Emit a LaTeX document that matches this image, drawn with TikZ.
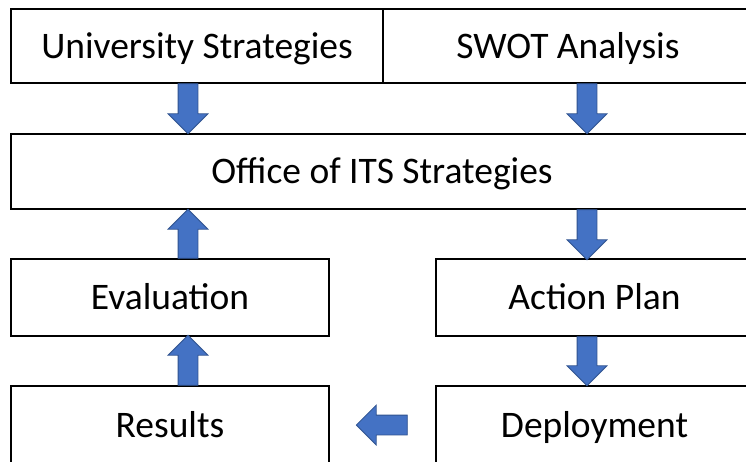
\documentclass[tikz,border=0pt]{standalone}
\usepackage{fontspec}
\setmainfont{Carlito}
\usetikzlibrary{shapes.arrows,calc}
\definecolor{arrowfill}{HTML}{4472C4}
\definecolor{arrowline}{HTML}{2F528F}
\tikzset{
  box/.style={draw=black, line width=1.4pt, fill=white, rectangle, inner sep=0pt,
    font=\fontsize{37.5}{42}\selectfont, text height=24pt, text depth=0pt},
  blockarrow/.style={single arrow, draw=arrowline, fill=arrowfill, line width=0.8pt,
    inner xsep=0pt, inner ysep=9.5pt, single arrow head extend=10pt,
    single arrow tip angle=90, single arrow head indent=0pt,
    outer sep=0pt, anchor=tail},
}
\begin{document}
\begin{tikzpicture}[x=1pt, y=-1pt]
  \useasboundingbox (0,0) rectangle (746,461);
  \clip (0,0) rectangle (746,461);
  \fill[white] (0,0) rectangle (746,461);

  % boxes (y runs downwards)
  \node[box, minimum width=372pt, minimum height=74pt] (us)     at (197,46)    {University Strategies};
  \node[box, minimum width=370pt, minimum height=74pt] (swot)   at (568,46)    {SWOT Analysis};
  \node[box, minimum width=742pt, minimum height=75pt] (office) at (382,171.5) {Office of ITS Strategies};
  \node[box, minimum width=318pt, minimum height=77pt] (eval)   at (170,297.5) {Evaluation};
  \node[box, minimum width=317pt, minimum height=77pt] (action) at (594.5,297.5) {Action Plan};
  \node[box, minimum width=318pt, minimum height=78pt] (res)    at (170,425)   {Results};
  \node[box, minimum width=317pt, minimum height=78pt] (deploy) at (594.5,425) {Deployment};

  % block arrows between the boxes
  \node[blockarrow, rotate=-90, minimum height=50pt] (a1) at (us.south -| 188,0) {};
  \node[blockarrow, rotate=-90, minimum height=50pt] (a2) at (swot.south -| 587,0) {};
  \node[blockarrow, rotate=90,  minimum height=49pt] (a3) at (eval.north -| 188,0) {};
  \node[blockarrow, rotate=-90, minimum height=50pt] (a4) at (office.south -| 587,0) {};
  \node[blockarrow, rotate=-90, minimum height=49pt] (a5) at (action.south -| 587,0) {};
  \node[blockarrow, rotate=90,  minimum height=50pt] (a6) at (res.north -| 188,0) {};
  \coordinate (ltail) at ($(res.east)!0.735!(deploy.west)$);
  \node[blockarrow, rotate=180, minimum height=51pt] (a7) at (ltail) {};
\end{tikzpicture}
\end{document}
